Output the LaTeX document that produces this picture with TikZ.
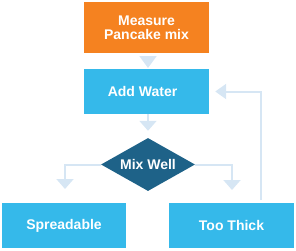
\documentclass[tikz,border=0pt]{standalone}
\usepackage{fontspec}
\setmainfont{Liberation Sans}
\usetikzlibrary{arrows.meta,shapes.geometric}
\definecolor{orangec}{HTML}{F58220}
\definecolor{bluec}{HTML}{35B9EA}
\definecolor{darkc}{HTML}{1E6288}
\definecolor{linec}{HTML}{D6E6F4}
\tikzset{
  box/.style={rectangle, fill=bluec, draw=none, minimum width=125pt, minimum height=45pt, inner sep=0pt,
    text=white, font=\fontsize{14}{14.5}\selectfont\bfseries, align=center},
  dia/.style={diamond, fill=darkc, draw=none, minimum width=94pt, minimum height=53pt, inner sep=0pt, aspect=1.77,
    text=white, font=\fontsize{14}{14.5}\selectfont\bfseries},
  conn/.style={draw=linec, line width=2pt},
  tip/.style={-{Triangle[length=#1, width=17pt, fill=linec, color=linec]}},
}
\begin{document}
\begin{tikzpicture}[x=1pt, y=-1pt]
\useasboundingbox (0,0) rectangle (296,250);
\node[box, fill=orangec, minimum height=51pt] (measure) at (146.5,27.5) {Measure\\Pancake mix};
\node[box] (water) at (146.5,91.5) {Add Water\hspace*{8pt}};
\node[dia] (mix) at (148,164.5) {Mix Well};
\node[box, minimum width=124pt] (spread) at (64,225.5) {Spreadable};
\node[box] (thick) at (231.5,225.5) {Too Thick};
\coordinate (c1) at (148,54);
\coordinate (c2) at (148,70);
\draw[conn, tip=12pt, shorten <=2pt, shorten >=2pt] (c1) -- (c2);
\draw[conn, tip=10pt, shorten >=7pt] (water.south -| mix.north) -- (mix.north);
\coordinate (lb) at (65,203);
\coordinate (rb) at (232,203);
\draw[conn, tip=10pt, shorten >=14pt] (mix.west) -| (lb);
\draw[conn, tip=10pt, shorten >=13pt] (mix.east) -| (rb);
\coordinate (fb) at (261,202);
\draw[conn, -{Triangle[length=11pt, width=15pt, fill=linec, color=linec]}, shorten <=2pt, shorten >=6pt] (fb) |- (water.east);
\end{tikzpicture}
\end{document}
